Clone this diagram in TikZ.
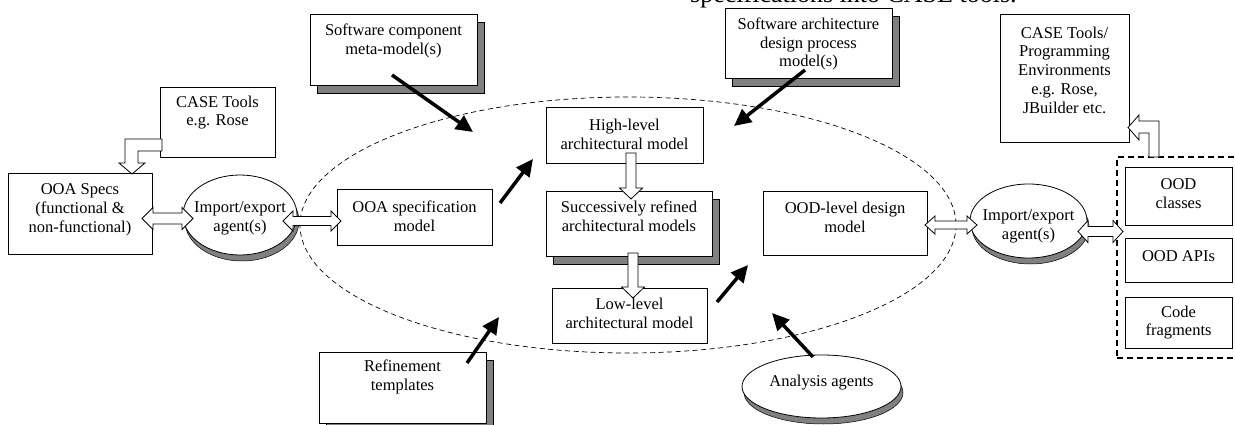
\documentclass[tikz,border=0pt]{standalone}
\usepackage{fontspec}
\setmainfont{Liberation Serif}
\usetikzlibrary{calc,arrows.meta,shapes.geometric,shadows}
\newcommand\dblarrow[5]{\draw[blk] (#1) -- ++(#5,-#3) -- ++(0,#3-#4) -- ($(#2)+(-#5,-#4)$) -- ++(0,#4-#3) -- (#2) -- ++(-#5,#3) -- ++(0,#4-#3) -- ($(#1)+(#5,#4)$) -- ++(0,#3-#4) -- cycle;}
\newcommand\downarr[5]{\draw[blk] ($(#1)+(-#4,0)$) -- ($(#2)+(-#4,-#5)$) -- ($(#2)+(-#3,-#5)$) -- (#2) -- ($(#2)+(#3,-#5)$) -- ($(#2)+(#4,-#5)$) -- ($(#1)+(#4,0)$) -- cycle;}
\begin{document}
\begin{tikzpicture}[x=1pt,y=-1pt,
  box/.style={draw, fill=white, line width=0.8pt, inner sep=0pt, rectangle},
  ell/.style={draw, fill=white, line width=0.8pt, inner sep=0pt, ellipse},
  txt/.style={align=center, font=\fontsize{16.5}{18.8}\selectfont, inner sep=0pt},
  rshadow/.style={drop shadow={shadow xshift=7pt, shadow yshift=-8pt, fill=black!50, draw=black, line width=0.5pt, opacity=1}},
  eshadow/.style={drop shadow={shadow xshift=2pt, shadow yshift=-6pt, fill=black!50, draw=black, line width=0.5pt, opacity=1}},
  blk/.style={draw, fill=white, line width=0.8pt, line join=miter},
  bold/.style={line width=3.5pt, -{Triangle[length=17pt,width=16pt]}},
  region/.style={draw, line width=0.7pt, dash pattern=on 5pt off 3.5pt},
  group/.style={draw, line width=1.8pt, dash pattern=on 6pt off 4pt, inner sep=0pt, rectangle}
]
\useasboundingbox (0,0) rectangle (1235,425);

% stray caption line cut at the top
\node[anchor=base west, font=\fontsize{26}{30}\selectfont, inner sep=0pt] (caption) at (690,3) {specifications into CASE tools.};

% dashed region
\draw[region] (628,225) ellipse [x radius=328, y radius=128];

% boxes
\node[box, rshadow, minimum width=167pt, minimum height=71pt] (swcomp) at (393.5,49.5) {};
\node[txt] (t-swcomp) at (393.5,41) {Software component\\meta-model(s)};

\node[box, rshadow, minimum width=167pt, minimum height=70pt] (swarch) at (808.5,43) {};
\node[txt] (t-swarch) at (808.5,44) {Software architecture\\design process\\model(s)};

\node[box, minimum width=115pt, minimum height=70pt] (case1) at (217.5,122) {};
\node[txt] (t-case1) at (217.5,112.5) {CASE Tools\\e.g. Rose};

\node[box, minimum width=144pt, minimum height=81pt] (ooaspecs) at (80,213.5) {};
\node[txt] (t-ooaspecs) at (80,209.5) {OOA Specs\\(functional \&\\non-functional)};

\node[ell, eshadow, minimum width=114pt, minimum height=80pt] (imp1) at (240,215) {};
\node[txt] (t-imp1) at (240,218.5) {Import/export\\agent(s)};

\node[box, minimum width=155pt, minimum height=56pt] (ooasm) at (414.5,217) {};
\node[txt] (t-ooasm) at (414.5,216) {OOA specification\\model};

\node[box, minimum width=157pt, minimum height=56pt] (high) at (624.5,135) {};
\node[txt] (t-high) at (624.5,134) {High-level\\architectural model};

\node[box, rshadow, minimum width=166pt, minimum height=65pt] (succ) at (629,223.5) {};
\node[txt] (t-succ) at (629,216) {Successively refined\\architectural models};

\node[box, minimum width=155pt, minimum height=55pt] (low) at (629.5,315.5) {};
\node[txt] (t-low) at (629.5,313.5) {Low-level\\architectural model};

\node[box, minimum width=164pt, minimum height=64pt] (oodl) at (845,223) {};
\node[txt] (t-oodl) at (845,217) {OOD-level design\\model};

\node[ell, eshadow, minimum width=117pt, minimum height=74pt] (imp2) at (1028.5,221) {};
\node[txt] (t-imp2) at (1028.5,226) {Import/export\\agent(s)};

\node[box, minimum width=129pt, minimum height=128pt] (casepe) at (1064.5,78) {};
\node[txt] (t-casepe) at (1064.5,70) {CASE Tools/\\Programming\\Environments\\e.g. Rose,\\JBuilder etc.};

\node[group, minimum width=128pt, minimum height=201pt] (cont) at (1181,257.5) {};

\node[box, minimum width=107pt, minimum height=58pt] (oodc) at (1178.5,196) {};
\node[txt] (t-oodc) at (1178.5,193.5) {OOD\\classes};

\node[box, minimum width=107pt, minimum height=44pt] (oodapi) at (1178.5,260) {};
\node[txt] (t-oodapi) at (1178.5,256) {OOD APIs};

\node[box, minimum width=107pt, minimum height=51pt] (code) at (1178.5,322.5) {};
\node[txt] (t-code) at (1178.5,322.5) {Code\\fragments};

\node[box, rshadow, minimum width=167pt, minimum height=71pt] (refine) at (402.5,387.5) {};
\node[txt] (t-refine) at (402.5,377) {Refinement\\templates};

\node[ell, eshadow, minimum width=159pt, minimum height=63pt] (analysis) at (821.5,386.5) {};
\node[txt] (t-analysis) at (821.5,383) {Analysis agents};

% hollow block arrows
\draw[blk] (162,139) -- (125,139) -- (125,163) -- (119,163) -- (132,174) -- (145,163) -- (138,163) -- (138,151) -- (162,151) -- cycle;
\draw[blk] (1149,157) -- (1149,133) -- (1139,133) -- (1139,140) -- (1128,127.5) -- (1139,115) -- (1139,121) -- (1159,121) -- (1159,157) -- cycle;

\coordinate (dA1) at (142,218.5); \coordinate (dA2) at (193,218.5);
\coordinate (dB1) at (283,221); \coordinate (dB2) at (341,221);
\coordinate (dC1) at (925,225); \coordinate (dC2) at (977,225);
\coordinate (dD1) at (1078,231.5); \coordinate (dD2) at (1123,231.5);
\dblarrow{dA1}{dA2}{11}{5.5}{11}
\dblarrow{dB1}{dB2}{10}{4.5}{10}
\dblarrow{dC1}{dC2}{9}{4}{10}
\dblarrow{dD1}{dD2}{11}{5}{10}

\coordinate (v1s) at (631,153); \coordinate (v1e) at (631,199);
\coordinate (v2s) at (633,253); \coordinate (v2e) at (633,298);
\downarr{v1s}{v1e}{11.5}{5}{11}
\downarr{v2s}{v2e}{11.5}{5}{11}

% bold arrows
\coordinate (b1s) at (392,75);  \coordinate (b1e) at (473,132);
\coordinate (b2s) at (805,70);  \coordinate (b2e) at (734,126);
\coordinate (b3s) at (500,203); \coordinate (b3e) at (533,159);
\coordinate (b4s) at (467,363); \coordinate (b4e) at (499,317);
\coordinate (b5s) at (717,302); \coordinate (b5e) at (748,265);
\coordinate (b6s) at (813,357); \coordinate (b6e) at (772,313);
\draw[bold] (b1s) -- (b1e);
\draw[bold] (b2s) -- (b2e);
\draw[bold] (b3s) -- (b3e);
\draw[bold] (b4s) -- (b4e);
\draw[bold] (b5s) -- (b5e);
\draw[bold] (b6s) -- (b6e);
\end{tikzpicture}
\end{document}
